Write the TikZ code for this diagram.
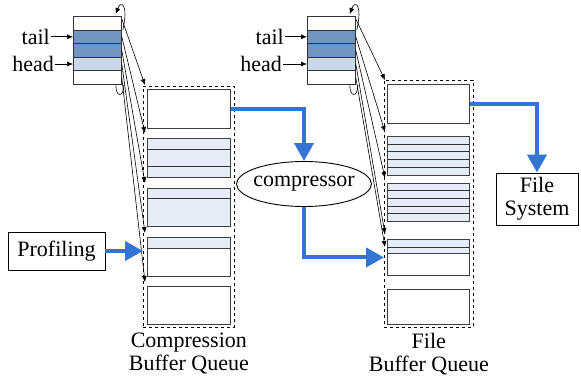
\documentclass[tikz,border=0pt]{standalone}
\usepackage{fontspec}
\setmainfont{Liberation Serif}
\usetikzlibrary{positioning,arrows.meta,shapes.geometric}

\definecolor{flowblue}{RGB}{52,116,210}
\definecolor{slotdark}{RGB}{114,148,192}
\definecolor{slotlight}{RGB}{202,216,232}
\definecolor{bufblue}{RGB}{230,237,247}

\begin{document}
\begin{tikzpicture}[x=1pt, y=-1pt, font=\fontsize{22}{23}\selectfont,
   slot/.style={draw=black!80, line width=0.8pt, minimum width=48pt, minimum height=13.6pt, inner sep=0pt, anchor=north west},
   blk/.style={draw=black!75, line width=0.9pt, minimum width=83pt, inner sep=0pt, anchor=north west},
   queue/.style={draw, dashed, line width=0.7pt, inner sep=0pt, anchor=north west},
   ptr/.style={-{Latex[length=6pt,width=5pt]}, line width=0.6pt},
   flow/.style={draw=flowblue, line width=4pt, -{Triangle[length=18pt,width=19pt]}},
   lbl/.style={draw, line width=0.9pt, align=center, inner sep=1pt}]
\useasboundingbox (0,0) rectangle (581,377);

% index tables (c = compression, f = file)
\foreach \p/\x in {c/73, f/307} {
  \foreach \i/\col in {1/white,2/slotdark,3/slotdark,4/slotlight,5/white}
    \node[slot, fill=\col] (\p i\i) at (\x, {16+(\i-1)*13.6}) {};
}

% queues
\node[queue, minimum width=91pt, minimum height=241pt] (cq) at (143,86) {};
\node[queue, minimum width=89pt, minimum height=247pt] (fq) at (384,80) {};

% compression buffers
\foreach \n/\t/\h/\col in {1/89/39pt/white, 2/138/39pt/bufblue, 3/188/38pt/bufblue, 4/237/39pt/white, 5/286/38pt/white}
  \node[blk, minimum height=\h, fill=\col] (ck\n) at (147,\t) {};
\node[blk, minimum height=11pt, fill=bufblue] (ck4a) at (147,237) {};
\foreach \y in {149,166}
  \draw[draw=black!80, line width=0.9pt] (ck2.west |- 0,\y) -- (ck2.east |- 0,\y);
\draw[draw=black!80, line width=0.9pt] (ck3.west |- 0,198) -- (ck3.east |- 0,198);

% file buffers
\foreach \n/\t/\h/\col in {1/84/39pt/white, 2/136/39pt/bufblue, 3/183/38pt/bufblue, 4/239/36pt/white, 5/289/35pt/white}
  \node[blk, minimum width=82pt, minimum height=\h, fill=\col] (fk\n) at (387,\t) {};
\node[blk, minimum width=82pt, minimum height=14pt, fill=bufblue] (fk4a) at (387,239) {};
\foreach \y in {144,151,159,167}
  \draw[draw=black!80, line width=0.9pt] (fk2.west |- 0,\y) -- (fk2.east |- 0,\y);
\foreach \y in {190,198,206,213}
  \draw[draw=black!80, line width=0.9pt] (fk3.west |- 0,\y) -- (fk3.east |- 0,\y);
\draw[draw=black!80, line width=0.9pt] (fk4.west |- 0,247) -- (fk4.east |- 0,247);

% where the pointers land
\foreach \n/\y in {1/85,2/133,3/183,4/233,5/282}
  \coordinate (ca\n) at (145,\y);
\foreach \n/\y in {1/80,2/132,3/178,4/234,5/247}
  \coordinate (fa\n) at (385,\y);

% pointers and wrap-around loops
\foreach \p in {c,f} {
  \draw[ptr] ([yshift=-3pt]\p i1.north east) -- (\p a1);
  \foreach \n in {2,...,5}
    \draw[ptr] (\p i\n.east) -- (\p a\n);
  \draw[ptr] ([shift={(1,14)}]\p i1.north east) .. controls +(6,-26) and +(5,-14) .. ([shift={(-6,-2)}]\p i1.north east);
  \draw[line width=0.6pt] ([xshift=-6pt]\p i5.south east) .. controls +(0,13) and +(0,13) .. ([xshift=2pt]\p i5.south east);
}

% tail / head labels
\begin{scope}[every node/.style={inner sep=1pt}]
\node[left=22pt of ci2] (ctail) {tail};
\node[left=18pt of ci4] (chead) {head};
\node[left=22pt of fi2] (ftail) {tail};
\node[left=24pt of fi4] (fhead) {head};
\end{scope}
\foreach \p in {c,f} {
  \draw[ptr] (\p tail) -- (\p i2);
  \draw[ptr] (\p head) -- (\p i4);
}

% other boxes
\node[ellipse, draw, line width=0.9pt, minimum height=45pt, inner xsep=-3pt, inner ysep=0pt] (comp) at (304,184) {compressor};
\node[lbl, minimum width=82pt, minimum height=52pt] (fs) at (537,199) {File\\System};
\node[lbl, minimum width=97pt, minimum height=38pt] (prof) at (56.5,251) {Profiling};

\node[below=4pt of cq, align=center, inner sep=1pt] (cql) {Compression\\Buffer Queue};
\node[below=4pt of fq |- cq.south, align=center, inner sep=1pt] (fql) {File\\Buffer Queue};

% data flow
\draw[flow] (ck1.east) -| (comp.north);
\draw[flow] (comp.south) |- (fq.west |- fk4);
\draw[flow] (fk1.east) -| (fs.north);
\draw[flow] (prof.east) -- (prof.east -| cq.west);
\end{tikzpicture}
\end{document}
